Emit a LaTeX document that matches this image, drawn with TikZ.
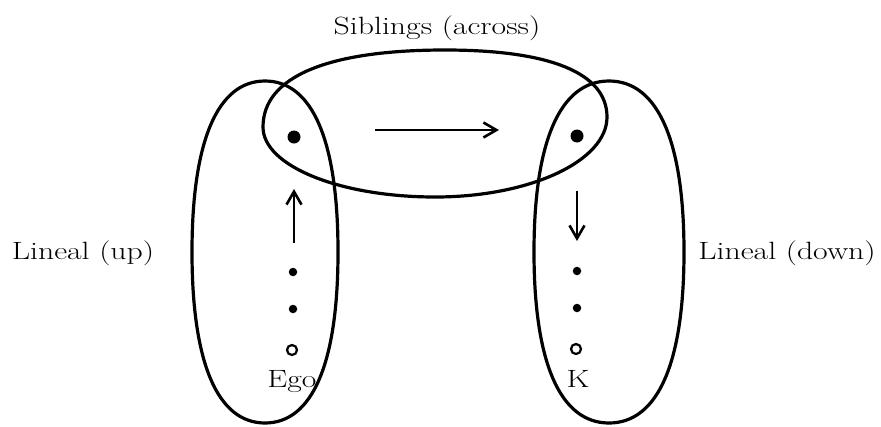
\documentclass[tikz,border=0pt]{standalone}
\usepackage{graphicx}
\usetikzlibrary{arrows.meta}
\tikzset{
  loopline/.style={line width=3.2pt, line join=round},
  arrowline/.style={line width=2.4pt, -{Straight Barb[length=13pt,width=15pt,line width=2.6pt]}},
  bigdot/.style={circle, fill=black, inner sep=0pt, minimum size=13pt},
  smalldot/.style={circle, fill=black, inner sep=0pt, minimum size=8.5pt},
  opendot/.style={circle, draw=black, line width=2.2pt, fill=white, inner sep=0pt, minimum size=10pt},
  lab/.style={inner sep=0pt, font=\fontsize{25}{30}\selectfont},
}
\newcommand{\xs}[1]{\scalebox{1.27}[1]{#1}}
\newcommand{\roundloop}[5]{%
  \draw[loopline] (#1-#3,#2)
    .. controls (#1-#3,#2-#5*#4) and (#1-#5*#3,#2-#4) .. (#1,#2-#4)
    .. controls (#1+#5*#3,#2-#4) and (#1+#3,#2-#5*#4) .. (#1+#3,#2)
    .. controls (#1+#3,#2+#5*#4) and (#1+#5*#3,#2+#4) .. (#1,#2+#4)
    .. controls (#1-#5*#3,#2+#4) and (#1-#3,#2+#5*#4) .. cycle;}
\begin{document}
\begin{tikzpicture}[x=1pt,y=-1pt]
\useasboundingbox (0,0) rectangle (881,426);
% side loops
\roundloop{265}{252}{73}{171}{0.65}
\roundloop{609}{252}{75}{171}{0.65}
% top loop
\draw[loopline] (263,127)
  .. controls (263,77) and (327,50) .. (445,50)
  .. controls (550,50) and (607,73) .. (607,117)
  .. controls (607,161) and (530,197) .. (435,197)
  .. controls (340,197) and (263,166) .. cycle;
% dots
\node[bigdot] (L0) at (294,137) {};
\node[smalldot] (L1) at (293,272) {};
\node[smalldot] (L2) at (293,309) {};
\node[opendot] (Ego) at (292,350) {};
\node[bigdot] (R0) at (577,136) {};
\node[smalldot] (R1) at (577,271) {};
\node[smalldot] (R2) at (577,308) {};
\node[opendot] (K) at (576,349) {};
% arrows
\coordinate (upS) at (294,243);
\coordinate (upE) at (294,189);
\coordinate (dnS) at (577,191);
\coordinate (dnE) at (577,241);
\coordinate (acS) at (375,130);
\coordinate (acE) at (499,130);
\draw[arrowline] (upS) -- (upE);
\draw[arrowline] (dnS) -- (dnE);
\draw[arrowline] (acS) -- (acE);
% labels
\node[lab] (sib) at (437,28) {\xs{Siblings (across)}};
\node[lab] (lup) at (83,253) {\xs{Lineal (up)}};
\node[lab] (ldn) at (787,253) {\xs{Lineal (down)}};
\node[lab, anchor=base] (egot) at (292,387) {\xs{Ego}};
\node[lab, anchor=base] (kt) at (578,387) {\xs{K}};
\end{tikzpicture}
\end{document}
